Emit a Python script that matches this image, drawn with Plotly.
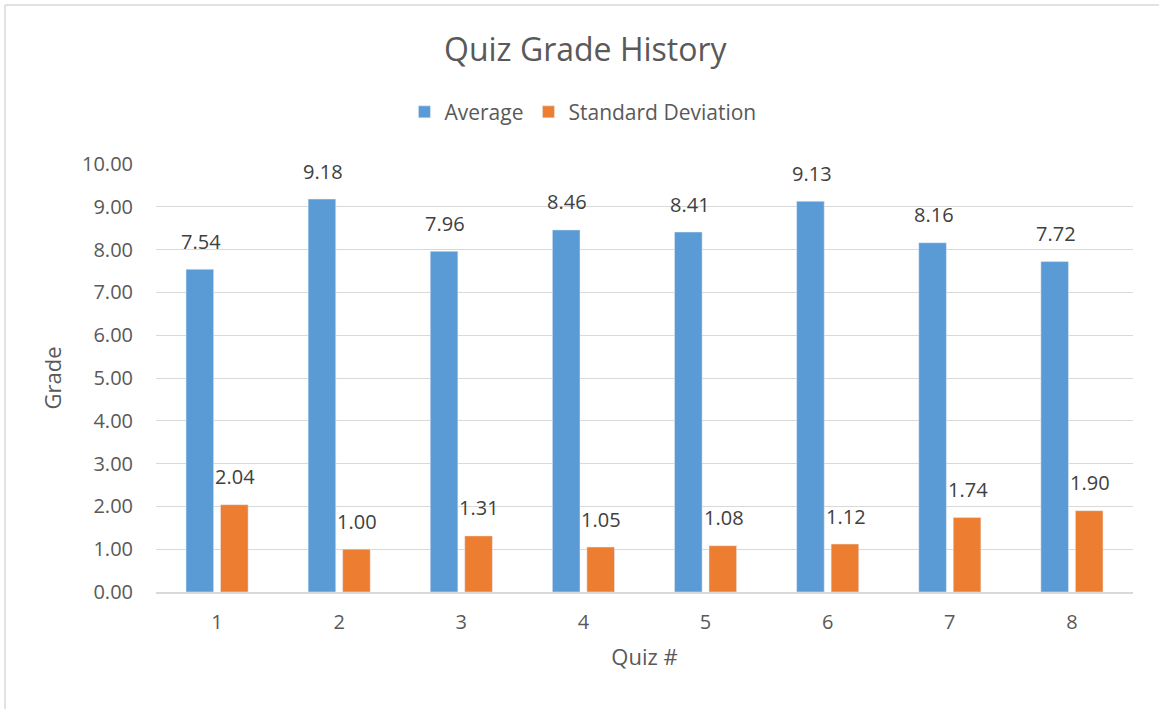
import plotly.graph_objects as go

quizzes = ["1", "2", "3", "4", "5", "6", "7", "8"]
average = [7.54, 9.18, 7.96, 8.46, 8.41, 9.13, 8.16, 7.72]
std_dev = [2.04, 1.00, 1.31, 1.05, 1.08, 1.12, 1.74, 1.90]
y_ticks = [0, 1, 2, 3, 4, 5, 6, 7, 8, 9, 10]

FONT = "Open Sans"

fig = go.Figure()
fig.add_trace(go.Bar(x=quizzes, y=average, name="Average", marker_color="#5B9BD5"))
fig.add_trace(go.Bar(x=quizzes, y=std_dev, name="Standard Deviation", marker_color="#ED7D31"))

annotations = []
for series, shift in ((average, -17), (std_dev, 17)):
    for i, v in enumerate(series):
        annotations.append(dict(
            x=i, y=v, xref="x", yref="y", text=f"{v:.2f}", showarrow=False,
            xshift=shift + 1, yshift=28, yanchor="middle", xanchor="center",
            font=dict(size=20, color="#404040", family=FONT),
        ))

fig.update_layout(
    width=1159, height=709,
    margin=dict(l=156, r=26, t=164, b=117),
    paper_bgcolor="white", plot_bgcolor="white",
    font=dict(family=FONT, color="#595959"),
    barmode="group", bargap=0.435, bargroupgap=0.2,
    title=dict(text="Quiz Grade History", x=0.505, xref="container", y=1 - 50 / 709,
               xanchor="center", yanchor="middle",
               font=dict(size=32, color="#595959", family=FONT)),
    legend=dict(orientation="h", x=0.437, xanchor="center", y=1.121, yanchor="middle",
                font=dict(size=21, color="#595959"), traceorder="normal",
                itemclick=False),
    xaxis=dict(type="category",
               title=dict(text="Quiz #", font=dict(size=22, color="#595959"), standoff=16),
               showline=True, linecolor="#D9D9D9", linewidth=1.5,
               tickfont=dict(size=20, color="#595959"), ticks="", showgrid=False,
               ticklabelstandoff=11),
    yaxis=dict(title=dict(text="Grade", font=dict(size=22, color="#595959"), standoff=14),
               range=[0, 10], tickvals=y_ticks, tickformat=".2f",
               tickfont=dict(size=20, color="#595959"),
               showgrid=True, gridcolor="#D9D9D9", gridwidth=1.2, zeroline=False,
               ticks="", ticklabelstandoff=22),
    annotations=annotations,
    shapes=[
        dict(type="line", xref="paper", yref="paper",
             x0=-151 / 977, x1=1.1, y0=(592 - 5) / 428, y1=(592 - 5) / 428,
             line=dict(color="#D9D9D9", width=1.5)),
        dict(type="line", xref="paper", yref="paper",
             x0=-151 / 977, x1=-151 / 977, y0=(592 - 5) / 428, y1=-0.3,
             line=dict(color="#D9D9D9", width=1.5)),
    ],
)

fig.write_html("out.html", config={"displayModeBar": False},
               post_script="document.body.style.margin='0';document.body.style.padding='0';")
